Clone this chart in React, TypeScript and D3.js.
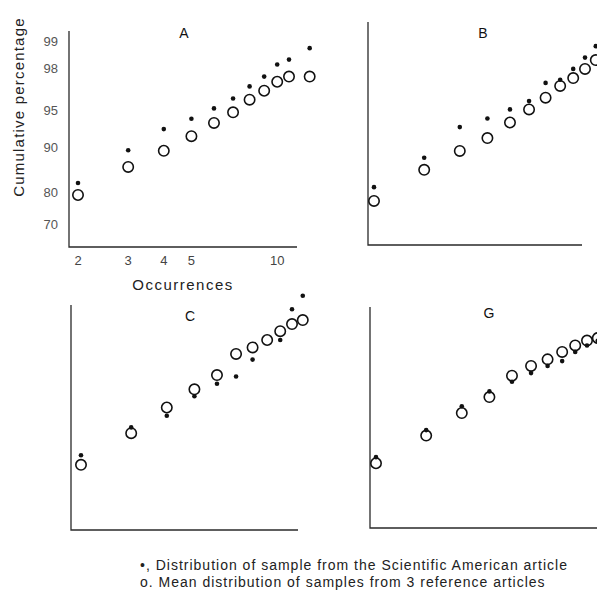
import React from "react";
import * as d3 from "d3";

// ---- data ----
const occurrences = [2, 3, 4, 5, 6, 7, 8, 9, 10, 11, 12];
const occurrencesA = [2, 3, 4, 5, 6, 7, 8, 9, 10, 11, 13];

const sampleA = [82.4, 89.5, 92.8, 94.1, 95.2, 96.1, 97.0, 97.6, 98.2, 98.4, 98.8];
const meanA = [79.2, 86.2, 89.4, 91.8, 93.6, 94.8, 96.0, 96.7, 97.3, 97.6, 97.6];
const sampleB = [80.8, 87.7, 92.8, 93.9, 94.9, 95.7, 97.1, 97.3, 97.9, 98.4, 98.8];
const meanB = [76.9, 85.1, 89.0, 91.2, 93.4, 94.9, 96.0, 96.9, 97.4, 97.9, 98.3];
const sampleC: (number | null)[] = [85.0, 90.5, 92.3, 94.7, 95.9, 96.5, 97.6, null, 98.5, 99.33, 99.54];
const meanC = [82.7, 89.5, 93.4, 95.4, 96.6, 97.9, 98.2, 98.5, 98.8, 99.0, 99.1];
const sampleG = [84.1, 89.7, 93.3, 95.0, 95.9, 96.6, 97.1, 97.4, 97.9, 98.2, 98.4];
const meanG = [82.6, 88.7, 92.4, 94.4, 96.4, 97.1, 97.5, 97.9, 98.2, 98.4, 98.5];

const yTickValues = [70, 80, 90, 95, 98, 99];
const xTickValues = [2, 3, 4, 5, 10];

const legendLines = [
  "•, Distribution of sample from the Scientific American article",
  "o. Mean distribution of samples from 3 reference articles",
];

// inverse normal CDF (Acklam)
function probit(p: number): number {
  const a = [-3.969683028665376e1, 2.209460984245205e2, -2.759285104469687e2, 1.38357751867269e2, -3.066479806614716e1, 2.506628277459239];
  const b = [-5.447609879822406e1, 1.615858368580409e2, -1.556989798598866e2, 6.680131188771972e1, -1.328068155288572e1];
  const c = [-7.784894002430293e-3, -3.223964580411365e-1, -2.400758277161838, -2.549732539343734, 4.374664141464968, 2.938163982698783];
  const d = [7.784695709041462e-3, 3.224671290700398e-1, 2.445134137142996, 3.754408661907416];
  const pl = 0.02425;
  if (p < pl) {
    const q = Math.sqrt(-2 * Math.log(p));
    return (((((c[0] * q + c[1]) * q + c[2]) * q + c[3]) * q + c[4]) * q + c[5]) / ((((d[0] * q + d[1]) * q + d[2]) * q + d[3]) * q + 1);
  }
  if (p > 1 - pl) {
    const q = Math.sqrt(-2 * Math.log(1 - p));
    return -(((((c[0] * q + c[1]) * q + c[2]) * q + c[3]) * q + c[4]) * q + c[5]) / ((((d[0] * q + d[1]) * q + d[2]) * q + d[3]) * q + 1);
  }
  const q = p - 0.5;
  const r = q * q;
  return ((((((a[0] * r + a[1]) * r + a[2]) * r + a[3]) * r + a[4]) * r + a[5]) * q) / (((((b[0] * r + b[1]) * r + b[2]) * r + b[3]) * r + b[4]) * r + 1);
}

const W = 597;
const H = 591;
const PX_PER_Z = 101.7;
const PX_PER_DECADE = 285;

type PanelCfg = {
  title: string;
  xs: number[];
  sample: (number | null)[];
  mean: number[];
  x2: number; // pixel of occurrence 2
  zeroY: number; // pixel of z = 0
  axL: number;
  axR: number;
  axT: number;
  axB: number;
  titleX: number;
  titleY: number;
  labels: boolean;
};

const panels: PanelCfg[] = [
  { title: "A", xs: occurrencesA, sample: sampleA, mean: meanA, x2: 78, zeroY: 277.7, axL: 69, axR: 297, axT: 31, axB: 247, titleX: 184, titleY: 38, labels: true },
  { title: "B", xs: occurrences, sample: sampleB, mean: meanB, x2: 374, zeroY: 275.7, axL: 368, axR: 582, axT: 22, axB: 245, titleX: 483, titleY: 38, labels: false },
  { title: "C", xs: occurrences, sample: sampleC, mean: meanC, x2: 81, zeroY: 560.7, axL: 71, axR: 298, axT: 305, axB: 530, titleX: 190, titleY: 321, labels: false },
  { title: "G", xs: occurrences, sample: sampleG, mean: meanG, x2: 376, zeroY: 558.7, axL: 370, axR: 600, axT: 307, axB: 528, titleX: 489, titleY: 318, labels: false },
];

const FONT = "'Liberation Sans', 'DejaVu Sans', sans-serif";

function Panel({ cfg }: { cfg: PanelCfg }) {
  const x = d3.scaleLog().domain([2, 20]).range([cfg.x2, cfg.x2 + PX_PER_DECADE]);
  const yz = d3.scaleLinear().domain([0, 1]).range([cfg.zeroY, cfg.zeroY - PX_PER_Z]);
  const y = (pct: number) => yz(probit(pct / 100));
  const axisPath = d3.path();
  axisPath.moveTo(cfg.axL, cfg.axT);
  axisPath.lineTo(cfg.axL, cfg.axB);
  axisPath.lineTo(cfg.axR, cfg.axB);
  return (
    <g>
      <path d={axisPath.toString()} fill="none" stroke="#2a2a2a" strokeWidth={1.3} />
      <text x={cfg.titleX} y={cfg.titleY} textAnchor="middle" fontSize={14} fontFamily={FONT} fill="#111">
        {cfg.title}
      </text>
      {cfg.labels &&
        yTickValues.map((v) => (
          <text key={"y" + v} x={58} y={y(v) + 4.5} textAnchor="end" fontSize={13} fontFamily={FONT} fill="#555">
            {v}
          </text>
        ))}
      {cfg.labels &&
        xTickValues.map((v) => (
          <text key={"x" + v} x={x(v)} y={265} textAnchor="middle" fontSize={13} fontFamily={FONT} fill="#444">
            {v}
          </text>
        ))}
      {cfg.mean.map((v, i) => (
        <circle key={"m" + i} cx={x(cfg.xs[i])} cy={y(v)} r={5.2} fill="none" stroke="#111" strokeWidth={1.6} />
      ))}
      {cfg.sample.map((v, i) =>
        v == null ? null : <circle key={"s" + i} cx={x(cfg.xs[i])} cy={y(v)} r={2.3} fill="#111" />
      )}
    </g>
  );
}

export default function App() {
  return (
    <svg width={W} height={H} viewBox={`0 0 ${W} ${H}`} style={{ position: "absolute", left: 0, top: 0, background: "#fff" }}>
      <rect x={0} y={0} width={W} height={H} fill="#fff" />
      {panels.map((p) => (
        <Panel key={p.title} cfg={p} />
      ))}
      <text
        transform="translate(24,107) rotate(-90)"
        textAnchor="middle"
        fontSize={15}
        letterSpacing={1.2}
        fontFamily={FONT}
        fill="#222"
      >
        Cumulative percentage
      </text>
      <text x={183} y={290} textAnchor="middle" fontSize={15} letterSpacing={1.5} fontFamily={FONT} fill="#222">
        Occurrences
      </text>
      {legendLines.map((t, i) => (
        <text key={i} x={140} y={570 + i * 17} fontSize={14} letterSpacing={1} fontFamily={FONT} fill="#222">
          {t}
        </text>
      ))}
    </svg>
  );
}
